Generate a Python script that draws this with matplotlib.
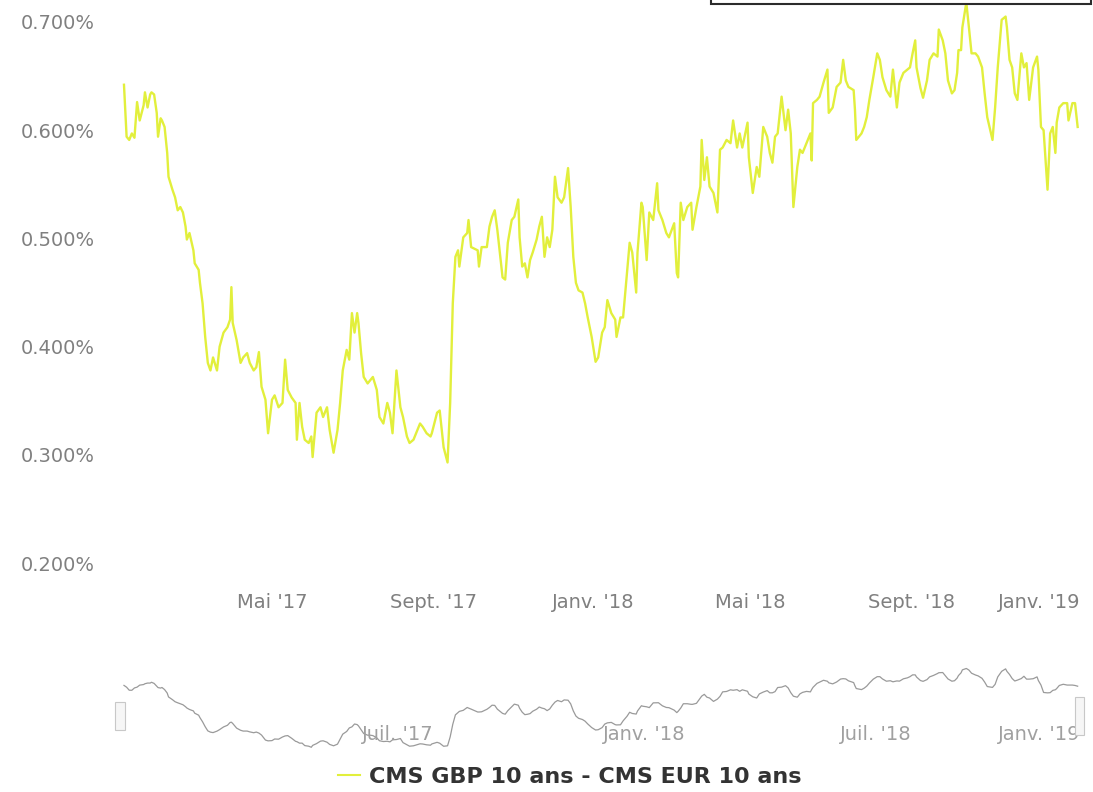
import matplotlib
matplotlib.use('Agg')
import matplotlib.pyplot as plt
import matplotlib.dates as mdates
import matplotlib.transforms as mtransforms
from matplotlib.lines import Line2D
from matplotlib.patches import Rectangle
import pandas as pd

# spread CMS GBP 10 ans - CMS EUR 10 ans, in %
days_2017 = ['01-08', '01-10', '01-12', '01-14', '01-16', '01-18', '01-20', '01-23', '01-24', '01-26', '01-28', '01-29', '01-31',
             '02-02', '02-03', '02-05', '02-06', '02-08', '02-10', '02-11', '02-14', '02-16', '02-18', '02-20', '02-22', '02-24', '02-25', '02-27',
             '03-02', '03-03', '03-06', '03-07', '03-09', '03-11', '03-13', '03-15', '03-17', '03-20', '03-22', '03-25', '03-28', '03-30', '03-31',
             '04-01', '04-04', '04-07', '04-09', '04-12', '04-14', '04-17', '04-19', '04-21', '04-23', '04-26', '04-28',
             '05-01', '05-03', '05-06', '05-09', '05-11', '05-13', '05-16', '05-19', '05-20', '05-22', '05-24', '05-26', '05-29', '05-31',
             '06-01', '06-04', '06-07', '06-09', '06-12', '06-14', '06-17', '06-20', '06-22', '06-24', '06-27', '06-29',
             '07-01', '07-03', '07-05', '07-06', '07-08', '07-10', '07-13', '07-15', '07-17', '07-20', '07-22', '07-25', '07-28', '07-30',
             '08-01', '08-04', '08-07', '08-09', '08-12', '08-14', '08-17', '08-20', '08-22', '08-24', '08-27', '08-30', '08-31',
             '09-04', '09-06', '09-09', '09-12', '09-14', '09-16', '09-18', '09-20', '09-21', '09-24', '09-27', '09-28', '09-30',
             '10-05', '10-06', '10-08', '10-12', '10-14', '10-16', '10-18', '10-20', '10-24', '10-26', '10-28', '10-31',
             '11-02', '11-05', '11-06', '11-08', '11-10', '11-12', '11-14', '11-16', '11-19', '11-21', '11-23', '11-25', '11-27', '11-29',
             '12-01', '12-03', '12-05', '12-08', '12-10', '12-13', '12-15', '12-17', '12-19', '12-21', '12-24', '12-26', '12-28', '12-31']
spread_2017 = [0.642, 0.594, 0.591, 0.597, 0.593, 0.626, 0.609, 0.623, 0.635, 0.621, 0.633, 0.635, 0.633,
               0.616, 0.594, 0.611, 0.609, 0.603, 0.579, 0.557, 0.545, 0.538, 0.526, 0.529, 0.524, 0.511, 0.499, 0.505,
               0.489, 0.477, 0.471, 0.459, 0.440, 0.409, 0.385, 0.378, 0.390, 0.378, 0.400, 0.413, 0.418, 0.425, 0.455,
               0.422, 0.406, 0.385, 0.390, 0.394, 0.385, 0.378, 0.381, 0.395, 0.363, 0.351, 0.320,
               0.351, 0.355, 0.344, 0.348, 0.388, 0.360, 0.353, 0.348, 0.314, 0.348, 0.326, 0.314, 0.311, 0.317,
               0.298, 0.339, 0.344, 0.335, 0.344, 0.323, 0.302, 0.323, 0.348, 0.378, 0.397, 0.388,
               0.431, 0.413, 0.431, 0.422, 0.394, 0.372, 0.366, 0.369, 0.372, 0.360, 0.335, 0.329, 0.348, 0.339,
               0.320, 0.378, 0.344, 0.335, 0.317, 0.311, 0.314, 0.323, 0.329, 0.326, 0.320, 0.317, 0.320,
               0.339, 0.341, 0.307, 0.293, 0.348, 0.440, 0.483, 0.489, 0.474, 0.501, 0.505, 0.517, 0.492,
               0.489, 0.474, 0.492, 0.492, 0.511, 0.520, 0.526, 0.508, 0.464, 0.462, 0.496, 0.517,
               0.520, 0.536, 0.501, 0.474, 0.477, 0.464, 0.480, 0.487, 0.499, 0.511, 0.520, 0.483, 0.501, 0.492,
               0.508, 0.557, 0.538, 0.533, 0.538, 0.565, 0.529, 0.483, 0.459, 0.452, 0.450, 0.440, 0.427, 0.409]

days_2018 = ['01-03', '01-05', '01-08', '01-10', '01-12', '01-15', '01-18', '01-19', '01-22', '01-24', '01-27', '01-29', '01-31',
             '02-03', '02-04', '02-07', '02-08', '02-11', '02-13', '02-16', '02-19', '02-20', '02-23', '02-26', '02-28',
             '03-04', '03-06', '03-07', '03-09', '03-11', '03-14', '03-17', '03-18', '03-21', '03-24', '03-25', '03-27', '03-29', '03-31',
             '04-03', '04-06', '04-08', '04-10', '04-13', '04-16', '04-18', '04-21', '04-23', '04-25', '04-29', '04-30',
             '05-03', '05-06', '05-08', '05-11', '05-14', '05-16', '05-18', '05-20', '05-22', '05-25', '05-28', '05-30',
             '06-01', '06-03', '06-06', '06-08', '06-10', '06-13', '06-16', '06-17', '06-18', '06-21', '06-23', '06-26', '06-29', '06-30',
             '07-03', '07-06', '07-09', '07-11', '07-13', '07-15', '07-19', '07-20', '07-21', '07-25', '07-27', '07-29', '07-31',
             '08-03', '08-06', '08-08', '08-10', '08-13', '08-16', '08-18', '08-21', '08-23', '08-26', '08-29', '08-31',
             '09-02', '09-04', '09-05', '09-08', '09-10', '09-13', '09-15', '09-18', '09-21', '09-22', '09-25', '09-27', '09-29',
             '10-02', '10-04', '10-06', '10-07', '10-09', '10-10', '10-13', '10-15', '10-17', '10-20', '10-22', '10-25', '10-27', '10-29',
             '11-02', '11-04', '11-06', '11-09', '11-12', '11-13', '11-15', '11-17', '11-19', '11-21', '11-24', '11-26', '11-28', '11-30',
             '12-03', '12-06', '12-07', '12-09', '12-11', '12-14', '12-16', '12-18', '12-20', '12-21', '12-23', '12-26', '12-29', '12-30']
spread_2018 = [0.386, 0.390, 0.413, 0.418, 0.443, 0.431, 0.425, 0.409, 0.427, 0.427, 0.468, 0.496, 0.487,
               0.450, 0.487, 0.533, 0.529, 0.480, 0.524, 0.517, 0.551, 0.526, 0.517, 0.505, 0.501,
               0.514, 0.468, 0.464, 0.533, 0.517, 0.529, 0.533, 0.508, 0.529, 0.548, 0.591, 0.554, 0.575, 0.548,
               0.542, 0.524, 0.582, 0.584, 0.591, 0.588, 0.609, 0.584, 0.597, 0.584, 0.607, 0.575,
               0.542, 0.566, 0.557, 0.603, 0.594, 0.579, 0.570, 0.594, 0.597, 0.631, 0.600, 0.619,
               0.597, 0.529, 0.566, 0.582, 0.579, 0.588, 0.597, 0.572, 0.625, 0.628, 0.631, 0.644, 0.656, 0.616,
               0.621, 0.640, 0.644, 0.665, 0.646, 0.640, 0.637, 0.619, 0.591, 0.597, 0.603, 0.612, 0.628,
               0.649, 0.671, 0.665, 0.649, 0.637, 0.631, 0.656, 0.621, 0.644, 0.653, 0.656, 0.658,
               0.671, 0.683, 0.658, 0.639, 0.630, 0.646, 0.665, 0.671, 0.668, 0.693, 0.683, 0.671, 0.646,
               0.634, 0.637, 0.653, 0.674, 0.674, 0.695, 0.718, 0.695, 0.671, 0.671, 0.668, 0.658, 0.634, 0.612,
               0.591, 0.621, 0.658, 0.702, 0.705, 0.695, 0.665, 0.658, 0.634, 0.628, 0.671, 0.658, 0.662, 0.628,
               0.658, 0.668, 0.656, 0.603, 0.600, 0.545, 0.597, 0.603, 0.579, 0.607, 0.621, 0.625, 0.625, 0.609]

days_2019 = ['01-02', '01-04', '01-06']
spread_2019 = [0.625, 0.625, 0.603]

main_ticks = ['2017-05-01', '2017-09-01', '2018-01-01', '2018-05-01', '2018-09-01', '2019-01-01']
main_tick_labels = ["Mai '17", "Sept. '17", "Janv. '18", "Mai '18", "Sept. '18", "Janv. '19"]
nav_ticks = ['2017-07-01', '2018-01-01', '2018-07-01', '2019-01-01']
nav_tick_labels = ["Juil. '17", "Janv. '18", "Juil. '18", "Janv. '19"]
y_ticks = [0.2, 0.3, 0.4, 0.5, 0.6, 0.7]
series_name = 'CMS GBP 10 ans - CMS EUR 10 ans'

line_color = '#e2ef3c'

dates = pd.to_datetime(['2017-' + d for d in days_2017] +
                       ['2018-' + d for d in days_2018] +
                       ['2019-' + d for d in days_2019])
spread = pd.Series(spread_2017 + spread_2018 + spread_2019, index=dates)

W, H = 1093, 792
fig = plt.figure(figsize=(W / 100, H / 100), dpi=100)
fig.patch.set_facecolor('white')


def px_box(left, top, right, bottom):
    return [left / W, 1 - bottom / H, (right - left) / W, (bottom - top) / H]


x_start = pd.Timestamp('2017-01-03 10:30')
x_end = pd.Timestamp('2019-01-07 19:00')

# main chart
ax = fig.add_axes(px_box(118, 0, 1080, 580))
ax.plot(spread.index, spread.values, color=line_color, lw=1.7)
ax.set_xlim(x_start, x_end)
ax.set_ylim(0.1844, 0.7203)
ax.set_yticks(y_ticks)
ax.set_yticklabels(['{:.3f}%'.format(v) for v in y_ticks])
ax.set_xticks(pd.to_datetime(main_ticks))
ax.set_xticklabels(main_tick_labels)
ax.tick_params(length=0, labelsize=14, labelcolor='#808080')
ax.tick_params(axis='y', pad=16.5)
ax.tick_params(axis='x', pad=9)
for s in ax.spines.values():
    s.set_visible(False)

# keep the last date label inside the plot
last = ax.get_xticklabels()[-1]
last.set_ha('right')
last.set_transform(last.get_transform() +
                   mtransforms.ScaledTranslation(9 / 100, 0, fig.dpi_scale_trans))

# navigator below
nav = fig.add_axes(px_box(118, 650, 1080, 750))
smooth = spread.rolling(3, center=True, min_periods=1).mean()
nav.plot(smooth.index, smooth.values, color='#9a9a9a', lw=0.9)
nav.set_xlim(x_start, x_end)
nav.set_ylim(0.295, 0.795)
nav.axis('off')
for d, lab in zip(nav_ticks[:-1], nav_tick_labels[:-1]):
    nav.annotate(lab, xy=(mdates.date2num(pd.Timestamp(d)), 0.15),
                 xycoords=nav.get_xaxis_transform(), xytext=(7, 0),
                 textcoords='offset points', ha='left', va='center',
                 fontsize=14, color='#a0a0a0')
nav.text(1.0, 0.15, nav_tick_labels[-1], transform=nav.transAxes,
         ha='right', va='center', fontsize=14, color='#a0a0a0')

# navigator handles
for x0, y0, x1, y1 in [(115, 702, 125, 730), (1075, 697, 1084, 735)]:
    fig.add_artist(Rectangle((x0 / W, 1 - y1 / H), (x1 - x0) / W, (y1 - y0) / H,
                             transform=fig.transFigure, facecolor='#f6f6f6',
                             edgecolor='#c8c8c8', lw=0.8))

# box cut by the top edge
fig.add_artist(Rectangle((711 / W, 1 - 4 / H), (1091 - 711) / W, 20 / H,
                         transform=fig.transFigure, facecolor='white',
                         edgecolor='#2b2b2b', lw=1.5, clip_on=False))

handle = Line2D([], [], color=line_color, lw=1.5)
fig.legend([handle], [series_name], loc='center', bbox_to_anchor=(0.5215, 0.019),
           frameon=False, prop={'weight': 'bold', 'size': 16}, labelcolor='#333333',
           handlelength=1.0, handletextpad=0.4)

fig.savefig('out.png', dpi=100, facecolor='white')
